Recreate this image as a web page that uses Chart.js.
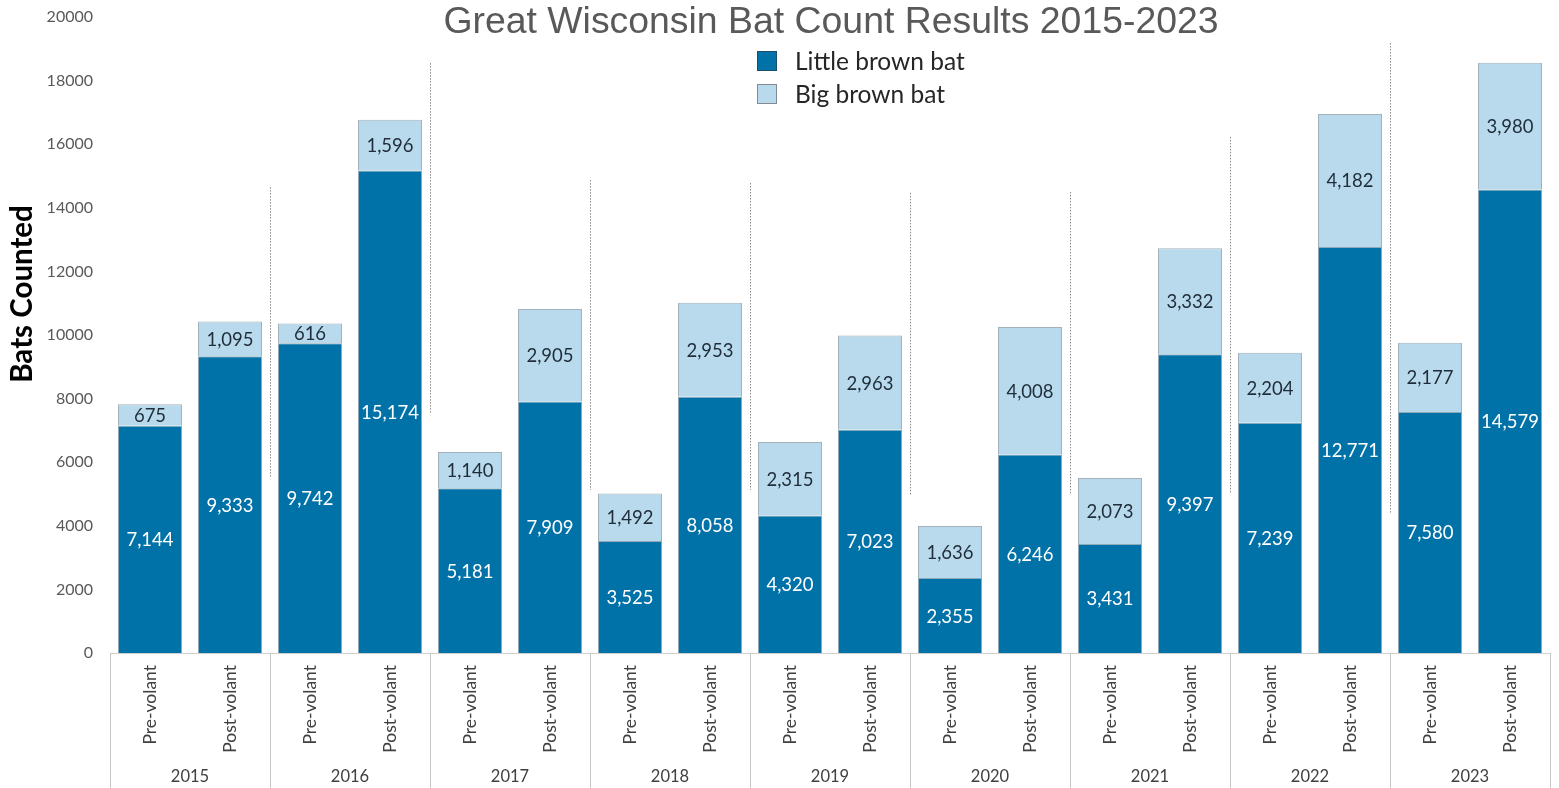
<!DOCTYPE html>
<html><head><meta charset="utf-8">
<script src="https://cdn.jsdelivr.net/npm/chart.js@4.4.0/dist/chart.umd.min.js"></script>
<style>html,body{margin:0;padding:0;background:#fff}</style>
</head><body>
<canvas id="c" width="1559" height="788"></canvas>
<script>
const years = ['2015','2016','2017','2018','2019','2020','2021','2022','2023'];
const periods = ['Pre-volant','Post-volant','Pre-volant','Post-volant','Pre-volant','Post-volant','Pre-volant','Post-volant','Pre-volant','Post-volant','Pre-volant','Post-volant','Pre-volant','Post-volant','Pre-volant','Post-volant','Pre-volant','Post-volant'];
const littleBrown = [7144, 9333, 9742, 15174, 5181, 7909, 3525, 8058, 4320, 7023, 2355, 6246, 3431, 9397, 7239, 12771, 7580, 14579];
const bigBrown = [675, 1095, 616, 1596, 1140, 2905, 1492, 2953, 2315, 2963, 1636, 4008, 2073, 3332, 2204, 4182, 2177, 3980];
const yMin = 0, yMax = 20000, yStep = 2000;
// dotted year separators: [bottom value, top value] between consecutive years
const separatorRanges = [[5500,14650],[7550,18550],[5130,14870],[5130,14780],[4970,14470],[4970,14500],[5030,16230],[4400,19180]];
const titleText = 'Great Wisconsin Bat Count Results 2015-2023';
const yTitleText = 'Bats Counted';

const DARK = '#0072A8', LIGHT = '#B8DAEC';
const FONT = 'Lato, "Open Sans", sans-serif';

const extras = {
  id: 'extras',
  afterDatasetsDraw(chart) {
    const ctx = chart.ctx;
    chart.data.datasets.forEach((ds, di) => {
      const meta = chart.getDatasetMeta(di);
      meta.data.forEach((el, i) => {
        const p = el.getProps(['x','y','base'], true);
        ctx.save();
        ctx.font = '18.5px ' + FONT;
        ctx.fillStyle = di === 0 ? '#ffffff' : '#1f2d3a';
        ctx.textAlign = 'center';
        ctx.textBaseline = 'middle';
        ctx.fillText(ds.data[i].toLocaleString('en-US'), p.x, (p.y + p.base) / 2 + 1);
        ctx.restore();
      });
    });
  },
  afterDraw(chart) {
    const ctx = chart.ctx, xs = chart.scales.x, ys = chart.scales.y, ca = chart.chartArea;
    ctx.save();
    ctx.strokeStyle = '#8a8a8a';
    ctx.lineWidth = 1;
    ctx.setLineDash([1.5, 1.5]);
    separatorRanges.forEach((r, k) => {
      const x = Math.round((xs.getPixelForValue(2*k+1) + xs.getPixelForValue(2*k+2)) / 2) + 0.5;
      ctx.beginPath();
      ctx.moveTo(x, ys.getPixelForValue(r[1]));
      ctx.lineTo(x, ys.getPixelForValue(r[0]));
      ctx.stroke();
    });
    ctx.setLineDash([]);
    ctx.strokeStyle = '#c6c6c6';
    const bounds = [xs.left];
    for (let k = 0; k < years.length - 1; k++) bounds.push((xs.getPixelForValue(2*k+1) + xs.getPixelForValue(2*k+2)) / 2);
    bounds.push(xs.right);
    bounds.forEach(b => {
      const x = Math.round(b) + 0.5;
      ctx.beginPath(); ctx.moveTo(x, ca.bottom); ctx.lineTo(x, chart.height); ctx.stroke();
    });
    ctx.font = '37.4px "Liberation Sans", Arial, sans-serif';
    ctx.fillStyle = '#595959';
    ctx.textAlign = 'center';
    ctx.textBaseline = 'middle';
    ctx.fillText(titleText, 831, 23);
    ctx.save();
    ctx.translate(22, 294);
    ctx.rotate(-Math.PI / 2);
    ctx.font = 'bold 29.5px ' + FONT;
    ctx.fillStyle = '#000000';
    ctx.fillText(yTitleText, 0, 0);
    ctx.restore();
    chart.data.datasets.forEach((ds, i) => {
      const y = 51 + i * 33;
      ctx.fillStyle = ds.backgroundColor;
      ctx.fillRect(757, y, 20, 20);
      ctx.strokeStyle = i === 0 ? '#1a4e6a' : '#7f8c94';
      ctx.strokeRect(757.5, y + 0.5, 19, 19);
      ctx.font = '24.5px ' + FONT;
      ctx.fillStyle = '#262626';
      ctx.textAlign = 'left';
      ctx.fillText(ds.label, 795, y + 11);
    });
    ctx.restore();
  }
};

new Chart(document.getElementById('c'), {
  type: 'bar',
  data: {
    labels: periods,
    datasets: [
      { label: 'Little brown bat', data: littleBrown, backgroundColor: DARK, borderColor: '#8fa9b8', borderWidth: 1 },
      { label: 'Big brown bat', data: bigBrown, backgroundColor: LIGHT, borderColor: '#a3b1ba', borderWidth: 1 }
    ]
  },
  options: {
    responsive: false,
    animation: false,
    devicePixelRatio: 1,
    layout: { padding: { top: 17, right: 9, left: 0, bottom: 0 } },
    datasets: { bar: { categoryPercentage: 1, barPercentage: 0.8 } },
    plugins: { legend: { display: false }, title: { display: false }, tooltip: { enabled: false } },
    scales: {
      x: {
        stacked: true,
        grid: { display: false, drawTicks: false },
        border: { display: true, color: '#d0d0d0' },
        ticks: { autoSkip: false, minRotation: 90, maxRotation: 90, padding: 12, color: '#404040', font: { family: FONT, size: 17.5 } },
        afterFit(s) { s.height = 107; }
      },
      x2: {
        type: 'category',
        labels: years,
        position: 'bottom',
        offset: true,
        grid: { display: false, drawTicks: false },
        border: { display: false },
        ticks: { padding: 7, color: '#404040', font: { family: FONT, size: 16.5 } },
        afterFit(s) { s.height = 28; }
      },
      y: {
        stacked: true,
        min: yMin, max: yMax,
        grid: { display: false, drawTicks: false },
        border: { display: false },
        ticks: { stepSize: yStep, padding: 17, color: '#595959', font: { family: FONT, size: 16 }, callback: v => String(v) },
        afterFit(s) { s.width = 110; s.paddingTop = 0; s.paddingBottom = 0; }
      }
    }
  },
  plugins: [extras]
});
</script>
</body></html>
